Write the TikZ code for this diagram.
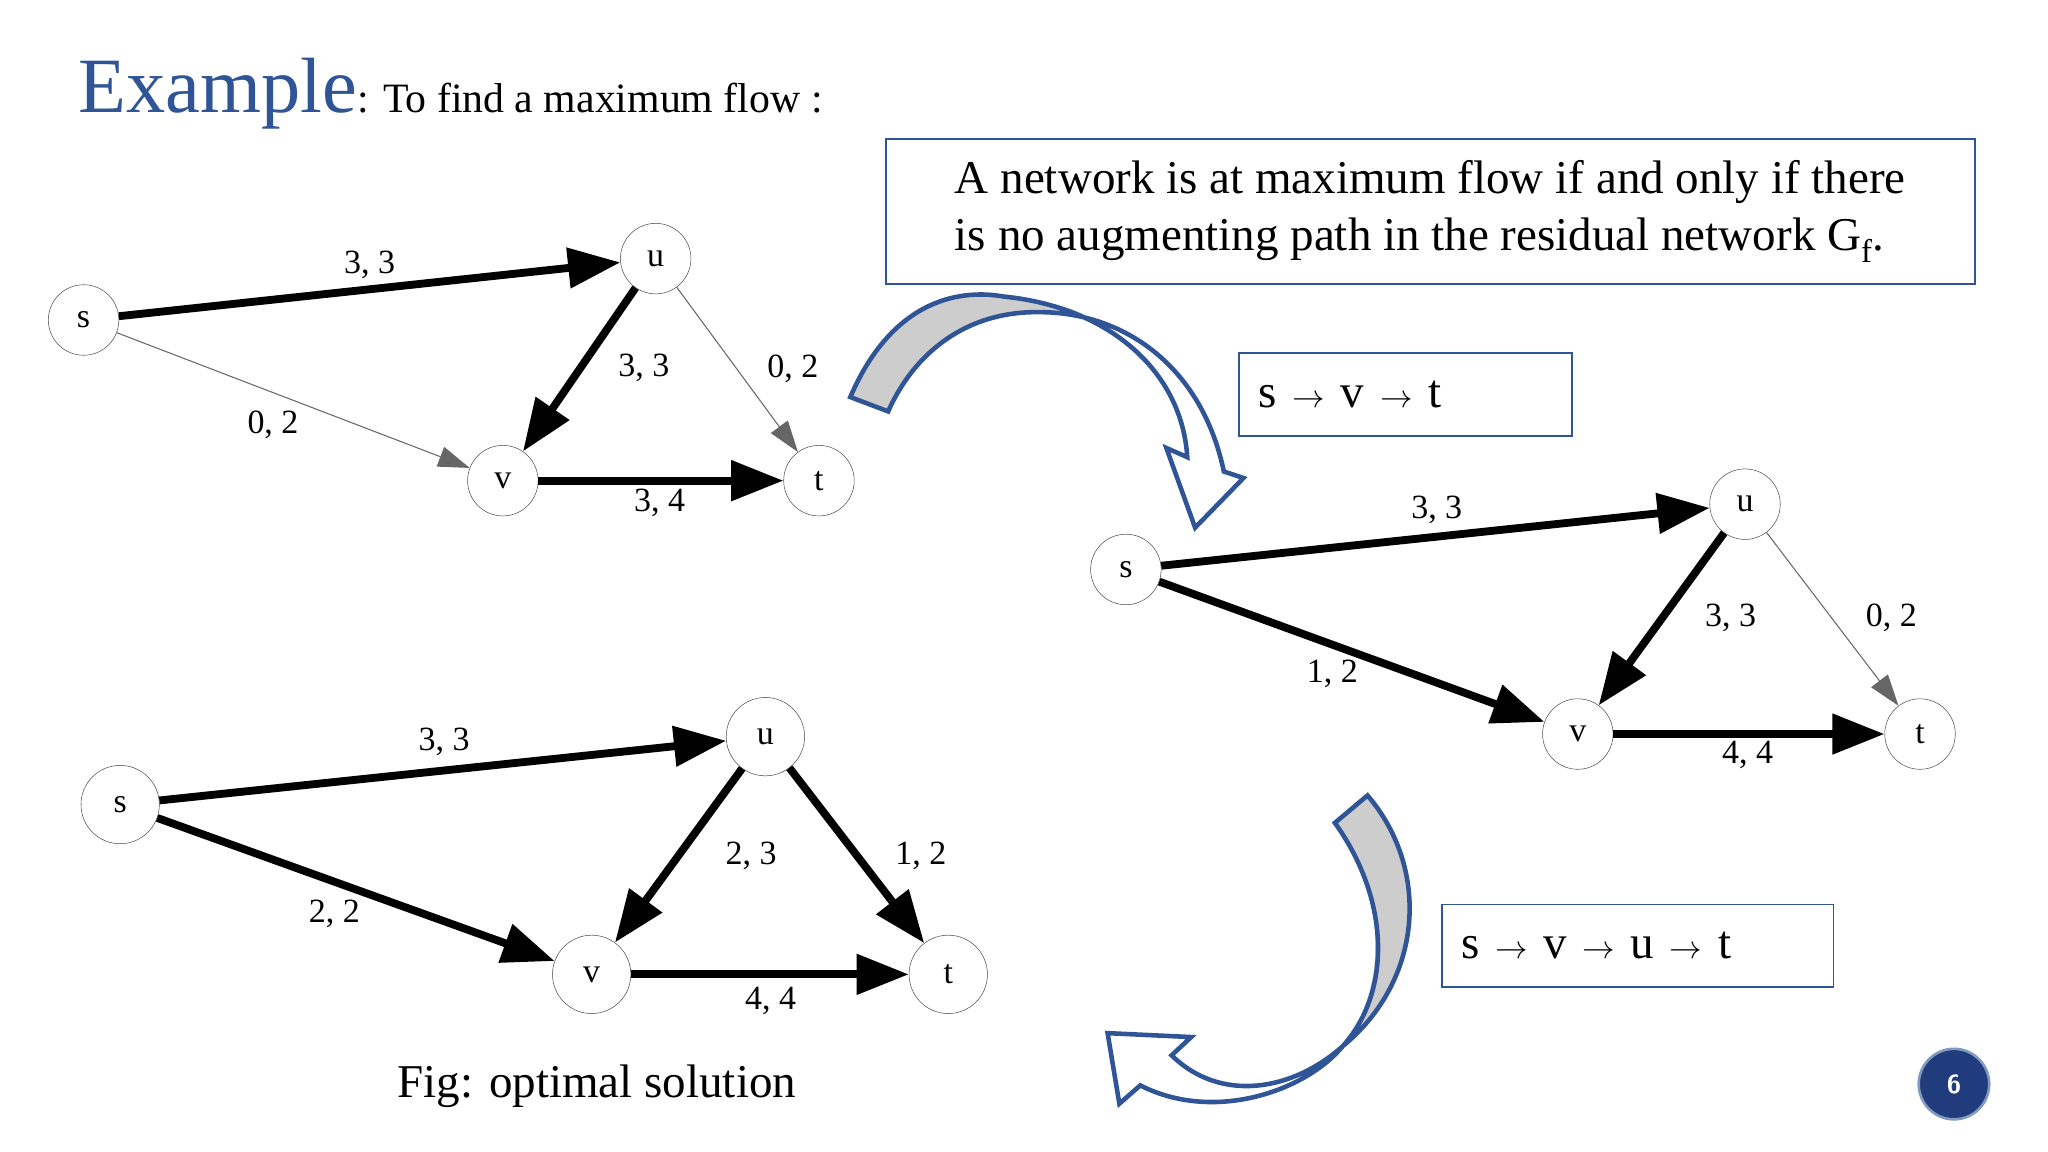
\documentclass[tikz,border=0pt]{standalone}
\usepackage{fontspec}
\setmainfont{Liberation Serif}
\usepackage{tikz}
\usetikzlibrary{arrows.meta}
\definecolor{slideblue}{RGB}{47,85,151}
\definecolor{badgeblue}{RGB}{33,60,125}
\definecolor{arrowgray}{RGB}{205,205,205}

\tikzset{
  vtx/.style={draw=black!70, circle, minimum size=54pt, inner sep=0pt, font=\fontsize{26}{28}\selectfont},
  flow/.style={line width=6pt, -{Triangle[length=40pt,width=30pt]}},
  thin/.style={draw=black!60, line width=0.8pt, -{Triangle[length=24pt,width=16pt]}},
  lbl/.style={font=\fontsize{26}{28}\selectfont},
  note/.style={draw=slideblue, line width=1.5pt, font=\fontsize{36}{44}\selectfont},
  bendarrow/.style={draw=slideblue, line width=3.5pt, line join=miter}
}

\begin{document}
\begin{tikzpicture}[x=1pt,y=-1pt]
  \useasboundingbox (0,0) rectangle (1568,882);

  % title
  \node[anchor=base west, text=slideblue, font=\fontsize{60}{60}\selectfont, inner sep=0pt] (title) at (60,86) {Example};
  \node[anchor=base west, font=\fontsize{32}{32}\selectfont, inner sep=0pt] at (title.base east) {: To find a maximum flow :};

  % first network
  \node[vtx] (s1) at (64,245)  {s};
  \node[vtx] (u1) at (502,198) {u};
  \node[vtx] (v1) at (385,368) {v};
  \node[vtx] (t1) at (627,368) {t};
  \draw[flow] (s1) -- (u1);
  \draw[flow] (u1) -- (v1);
  \draw[flow] (v1) -- (t1);
  \draw[thin] (s1) -- (v1);
  \draw[thin] (u1) -- (t1);
  \node[lbl] at (283,203) {3, 3};
  \node[lbl] at (209,325) {0, 2};
  \node[lbl] at (493,282) {3, 3};
  \node[lbl] at (607,282) {0, 2};
  \node[lbl] at (505,385) {3, 4};

  % second network
  \node[vtx] (s2) at (862,436)  {s};
  \node[vtx] (u2) at (1336,386) {u};
  \node[vtx] (v2) at (1208,562) {v};
  \node[vtx] (t2) at (1470,562) {t};
  \draw[flow] (s2) -- (u2);
  \draw[flow] (s2) -- (v2);
  \draw[flow] (u2) -- (v2);
  \draw[flow] (v2) -- (t2);
  \draw[thin] (u2) -- (t2);
  \node[lbl] at (1100,390) {3, 3};
  \node[lbl] at (1020,516) {1, 2};
  \node[lbl] at (1325,473) {3, 3};
  \node[lbl] at (1448,473) {0, 2};
  \node[lbl] at (1338,578) {4, 4};

  % optimal network
  \node[vtx, minimum size=60pt] (s3) at (92,616)  {s};
  \node[vtx, minimum size=60pt] (u3) at (586,564) {u};
  \node[vtx, minimum size=60pt] (v3) at (453,746) {v};
  \node[vtx, minimum size=60pt] (t3) at (726,746) {t};
  \draw[flow] (s3) -- (u3);
  \draw[flow] (s3) -- (v3);
  \draw[flow] (u3) -- (v3);
  \draw[flow] (u3) -- (t3);
  \draw[flow] (v3) -- (t3);
  \node[lbl] at (340,568) {3, 3};
  \node[lbl] at (256,700) {2, 2};
  \node[lbl] at (575,655) {2, 3};
  \node[lbl] at (705,655) {1, 2};
  \node[lbl] at (590,766) {4, 4};
  \node[font=\fontsize{36}{36}\selectfont] (fig) at (457,832) {Fig: optimal solution};

  % boxes
  \node[note, align=left, minimum width=834pt, minimum height=109pt, inner sep=16pt] (claim) at (1095,162)
    {A network is at maximum flow if and only if there\\is no augmenting path in the residual network G\textsubscript{f}.};
  \node[note, anchor=west, minimum width=255pt, minimum height=63pt, text width=225pt] (path1) at (948,302) {s $\rightarrow$ v $\rightarrow$ t};
  \node[note, anchor=west, minimum width=300pt, minimum height=63pt, text width=270pt] (path2) at (1103,724) {s $\rightarrow$ v $\rightarrow$ u $\rightarrow$ t};

  % curved arrows
  \fill[arrowgray] (651,304) .. controls (685,225) and (740,222) .. (768,227)
    .. controls (800,230) and (820,235) .. (832,242)
    .. controls (820,238) and (805,239) .. (796,239)
    .. controls (740,238) and (700,270) .. (680,315) -- cycle;
  \draw[bendarrow] (651,304) .. controls (685,225) and (740,222) .. (768,227)
    .. controls (850,235) and (905,285) .. (909,350)
    -- (893,343) -- (915,404) -- (952,366) -- (937,361)
    .. controls (920,280) and (860,239) .. (796,239)
    .. controls (740,238) and (700,270) .. (680,315) -- cycle;

  \fill[arrowgray] (1047,609) .. controls (1095,665) and (1090,750) .. (1028,801)
    .. controls (1060,760) and (1065,690) .. (1022,630) -- cycle;
  \draw[bendarrow] (1047,609) .. controls (1095,665) and (1090,750) .. (1028,801)
    .. controls (990,835) and (935,845) .. (897,808)
    -- (912,794) -- (848,791) -- (857,845) -- (873,831)
    .. controls (930,860) and (1000,835) .. (1028,801)
    .. controls (1065,760) and (1065,690) .. (1022,630) -- cycle;

  % page number
  \node[circle, fill=badgeblue, draw=slideblue!60, line width=2pt, minimum size=54pt, text=white,
        font=\sffamily\bfseries\fontsize{20}{20}\selectfont] (page) at (1496,830) {6};
\end{tikzpicture}
\end{document}
